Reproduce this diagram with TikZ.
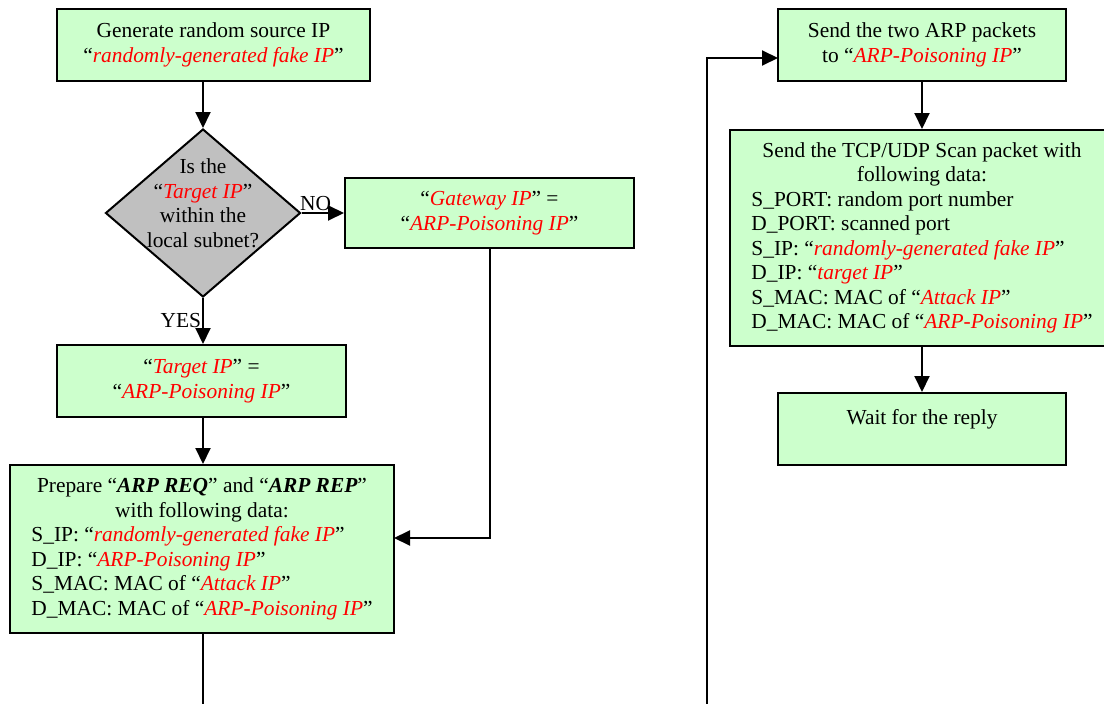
\documentclass[tikz,border=0pt]{standalone}
\usepackage{fontspec}
\setmainfont{Liberation Serif}
\usetikzlibrary{shapes.geometric,arrows.meta}
\definecolor{boxgreen}{HTML}{CCFFCC}
\definecolor{decgray}{HTML}{C0C0C0}
\newcommand{\redq}[1]{“\textcolor{red}{\textit{#1}}”}
\newcommand{\ctrline}[1]{\multicolumn{1}{@{}c@{}}{#1}}
\begin{document}
\begin{tikzpicture}[x=1pt,y=-1pt,
  every node/.style={font=\fontsize{21.4}{24.5}\selectfont},
  box/.style={draw=black,line width=2pt,fill=boxgreen,inner sep=0pt,align=center},
  decision/.style={draw=black,line width=2pt,fill=decgray,diamond,inner sep=0pt,minimum width=195pt,minimum height=168pt},
  arr/.style={line width=2pt,-{Triangle[length=16pt,width=15pt]}},
  ln/.style={line width=2pt}]
\clip (0,0) rectangle (1104,704);
\fill[white] (0,0) rectangle (1104,704);
% left column
\node[box,minimum width=313pt,minimum height=72pt] (gen) at (213.5,45) {Generate random source IP\\\redq{randomly-generated fake IP}};
\node[decision] (dec) at (203,213) {};
\node[align=center,inner sep=0pt] (dectext) at (203,203) {Is the\\\redq{Target IP}\\within the\\local subnet?};
\node[box,minimum width=289pt,minimum height=70pt] (gw) at (489.5,213) {\redq{Gateway IP} =\\\redq{ARP-Poisoning IP}};
\node[box,minimum width=289pt,minimum height=72pt] (tgt) at (201.5,381) {\redq{Target IP} =\\\redq{ARP-Poisoning IP}};
\node[box,minimum width=384pt,minimum height=168pt] (prep) at (202,549) {%
\begin{tabular}{@{}l@{}}
\ctrline{Prepare “\textbf{\textit{ARP REQ}}” and “\textbf{\textit{ARP REP}}”}\\
\ctrline{with following data:}\\
S\_IP: \redq{randomly-generated fake IP}\\
D\_IP: \redq{ARP-Poisoning IP}\\
S\_MAC: MAC of \redq{Attack IP}\\
D\_MAC: MAC of \redq{ARP-Poisoning IP}
\end{tabular}};
% right column
\node[box,minimum width=288pt,minimum height=72pt] (send) at (922,45) {Send the two ARP packets\\to \redq{ARP-Poisoning IP}};
\node[box,minimum width=384pt,minimum height=216pt] (tcp) at (922,238) {%
\begin{tabular}{@{}l@{}}
\ctrline{Send the TCP/UDP Scan packet with}\\
\ctrline{following data:}\\
S\_PORT: random port number\\
D\_PORT: scanned port\\
S\_IP: \redq{randomly-generated fake IP}\\
D\_IP: \redq{target IP}\\
S\_MAC: MAC of \redq{Attack IP}\\
D\_MAC: MAC of \redq{ARP-Poisoning IP}
\end{tabular}};
\node[box,minimum width=288pt,minimum height=72pt] (wait) at (922,429) {Wait for the reply\\\mbox{}};
% coordinates
\coordinate (j) at (394,538);
\coordinate (b1) at (203,704);
\coordinate (b2) at (707,704);
\coordinate (s1) at (778,58);
% connectors
\draw[arr] (gen.south -| dec.north) -- (dec.north);
\draw[arr] (dec.east) -- node[pos=0.33,above,inner sep=1pt] (no) {NO} (gw.west);
\draw[arr] (dec.south) -- node[pos=0.5,left,inner sep=1pt] (yes) {YES} (dec.south |- tgt.north);
\draw[arr] (tgt.south -| dec.south) -- (dec.south |- prep.north);
\draw[arr] (gw.south) |- (j);
\draw[ln] (prep.south -| dec.south) -- (b1);
\draw[arr] (b2) |- (s1);
\draw[arr] (send.south) -- (tcp.north);
\draw[arr] (tcp.south) -- (wait.north);
\end{tikzpicture}
\end{document}
